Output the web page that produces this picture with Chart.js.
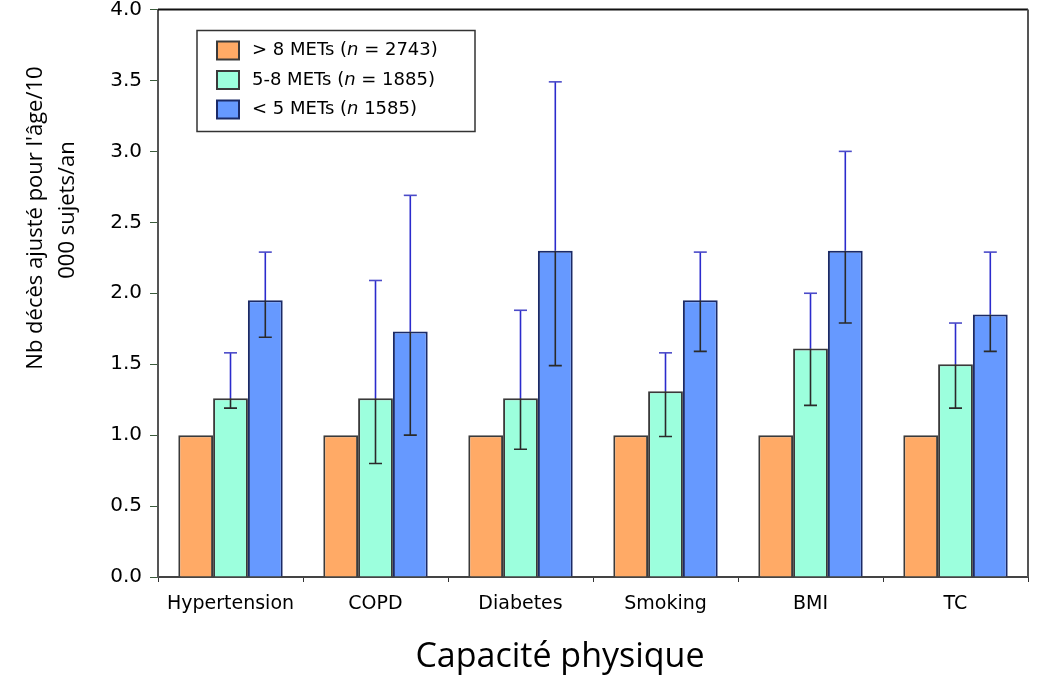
<!DOCTYPE html>
<html>
<head>
<meta charset="utf-8">
<script src="https://cdn.jsdelivr.net/npm/chart.js@4/dist/chart.umd.min.js"></script>
<style>
  html, body { margin: 0; padding: 0; background: #fff; }
  #wrap { width: 1038px; height: 682px; position: relative; }
</style>
</head>
<body>
<div id="wrap"><canvas id="c" width="1038" height="682"></canvas></div>
<script>
// Risk factors along the x axis
const categories = ['Hypertension', 'COPD', 'Diabetes', 'Smoking', 'BMI', 'TC'];

// Age-adjusted deaths per 10 000 person-years, by exercise capacity
const highFit = [1.00, 1.00, 1.00, 1.00, 1.00, 1.00];      // > 8 METs
const midFit  = [1.26, 1.26, 1.26, 1.31, 1.61, 1.50];      // 5-8 METs
const lowFit  = [1.95, 1.73, 2.30, 1.95, 2.30, 1.85];      // < 5 METs

// Confidence intervals
const midFitLow  = [1.19, 0.80, 0.90, 0.99, 1.21, 1.19];
const midFitHigh = [1.58, 2.09, 1.88, 1.58, 2.00, 1.79];
const lowFitLow  = [1.69, 1.00, 1.49, 1.59, 1.79, 1.59];
const lowFitHigh = [2.29, 2.69, 3.49, 2.29, 3.00, 2.29];

const seriesLabels = [
  ['> 8 METs (', 'n', ' = 2743)'],
  ['5-8 METs (', 'n', ' = 1885)'],
  ['< 5 METs (', 'n', ' 1585)']
];
const yTicks = [0, 0.5, 1, 1.5, 2, 2.5, 3, 3.5, 4];
const xTitle = 'Capacité physique';
const yTitle = ["Nb décès ajusté pour l'âge/10", '000 sujets/an'];

const TICK_FONT = 'DejaVu Sans';
const TITLE_FONT = '"Open Sans", "Noto Sans", sans-serif';

// Error bars: upper whisker in blue, lower whisker (inside the bar) in dark grey
const errorBars = {
  id: 'errorBars',
  afterDatasetsDraw(chart) {
    const ctx = chart.ctx;
    const y = chart.scales.y;
    chart.data.datasets.forEach((ds, di) => {
      if (!ds.errLow) return;
      const meta = chart.getDatasetMeta(di);
      meta.data.forEach((bar, i) => {
        const x = bar.x;
        const top = bar.y;
        const yHi = y.getPixelForValue(ds.errHigh[i]);
        const yLo = y.getPixelForValue(ds.errLow[i]);
        const cap = 6.5;
        ctx.save();
        ctx.lineWidth = 1.6;
        ctx.strokeStyle = '#2b2bcc';
        ctx.beginPath();
        ctx.moveTo(x, top); ctx.lineTo(x, yHi);
        ctx.stroke();
        ctx.strokeStyle = '#4b4bc8';
        ctx.beginPath();
        ctx.moveTo(x - cap, yHi); ctx.lineTo(x + cap, yHi);
        ctx.stroke();
        ctx.strokeStyle = '#2a2a2a';
        ctx.beginPath();
        ctx.moveTo(x, top); ctx.lineTo(x, yLo);
        ctx.moveTo(x - cap, yLo); ctx.lineTo(x + cap, yLo);
        ctx.stroke();
        ctx.restore();
      });
    });
  }
};

// Top and right edges of the plot frame
const frame = {
  id: 'frame',
  afterDraw(chart) {
    const { ctx, chartArea: a } = chart;
    ctx.save();
    ctx.lineWidth = 2;
    ctx.strokeStyle = '#111';
    ctx.beginPath();
    ctx.moveTo(a.left, a.top); ctx.lineTo(a.right, a.top);
    ctx.stroke();
    ctx.strokeStyle = '#555';
    ctx.beginPath();
    ctx.moveTo(a.right, a.top); ctx.lineTo(a.right, a.bottom);
    ctx.stroke();
    ctx.restore();
  }
};

// Boxed legend inside the plot, with an italic "n"
const boxedLegend = {
  id: 'boxedLegend',
  afterDraw(chart) {
    const ctx = chart.ctx;
    const a = chart.chartArea;
    const bx = a.left + 39, by = a.top + 21, bw = 278, bh = 101;
    ctx.save();
    ctx.fillStyle = '#fff';
    ctx.fillRect(bx, by, bw, bh);
    ctx.lineWidth = 1.5;
    ctx.strokeStyle = '#333';
    ctx.strokeRect(bx, by, bw, bh);
    chart.data.datasets.forEach((ds, i) => {
      const cy = by + 20 + i * 29.5;
      ctx.fillStyle = ds.backgroundColor;
      ctx.fillRect(bx + 20, cy - 9, 22, 18);
      ctx.lineWidth = 2;
      ctx.strokeStyle = ds.borderColor;
      ctx.strokeRect(bx + 20, cy - 9, 22, 18);
      let tx = bx + 55;
      ctx.fillStyle = '#000';
      ctx.textBaseline = 'middle';
      seriesLabels[i].forEach((part, k) => {
        ctx.font = (k === 1 ? 'italic ' : '') + '18px "' + TICK_FONT + '"';
        ctx.fillText(part, tx, cy);
        tx += ctx.measureText(part).width;
      });
    });
    ctx.restore();
  }
};

// Axis titles
const axisTitles = {
  id: 'axisTitles',
  afterDraw(chart) {
    const ctx = chart.ctx;
    ctx.save();
    ctx.fillStyle = '#000';
    ctx.textAlign = 'center';
    ctx.textBaseline = 'middle';
    ctx.font = '34px ' + TITLE_FONT;
    ctx.fillText(xTitle, 560, 657);
    ctx.font = '22px ' + TITLE_FONT;
    ctx.save();
    ctx.translate(36, 218);
    ctx.rotate(-Math.PI / 2);
    ctx.fillText(yTitle[0], 0, 0);
    ctx.restore();
    ctx.save();
    ctx.translate(68, 210);
    ctx.rotate(-Math.PI / 2);
    ctx.fillText(yTitle[1], 0, 0);
    ctx.restore();
    ctx.restore();
  }
};

new Chart(document.getElementById('c'), {
  type: 'bar',
  data: {
    labels: categories,
    datasets: [
      { label: seriesLabels[0].join(''), data: highFit,
        backgroundColor: '#FFAA66', borderColor: '#3a3a3a', borderWidth: 2 },
      { label: seriesLabels[1].join(''), data: midFit, errLow: midFitLow, errHigh: midFitHigh,
        backgroundColor: '#9CFFDD', borderColor: '#3a3a3a', borderWidth: 2 },
      { label: seriesLabels[2].join(''), data: lowFit, errLow: lowFitLow, errHigh: lowFitHigh,
        backgroundColor: '#6699FF', borderColor: '#1b2a66', borderWidth: 2 }
    ]
  },
  options: {
    responsive: false,
    animation: false,
    devicePixelRatio: 1,
    layout: { padding: { left: 0, right: 10, top: 0, bottom: 0 } },
    datasets: { bar: { categoryPercentage: 0.72, barPercentage: 1.0 } },
    plugins: { legend: { display: false }, tooltip: { enabled: false } },
    scales: {
      x: {
        grid: { display: true, drawOnChartArea: false, drawTicks: true, tickLength: 5, color: '#333', offset: true },
        border: { display: true, color: '#444', width: 2 },
        ticks: { color: '#000', padding: 11, font: { family: TICK_FONT, size: 19 }, maxRotation: 0 },
        afterFit(s) { s.height = 105; }
      },
      y: {
        min: 0, max: 4,
        afterBuildTicks(s) { s.ticks = yTicks.map(v => ({ value: v })); },
        grid: { display: true, drawOnChartArea: false, drawTicks: true, tickLength: 8, color: '#3b5b3b' },
        border: { display: true, color: '#555', width: 2 },
        ticks: { color: '#000', padding: 8, font: { family: TICK_FONT, size: 20 },
                 callback: v => Number(v).toFixed(1) },
        afterFit(s) { s.width = 158; s.paddingTop = 9.5; }
      }
    }
  },
  plugins: [errorBars, frame, boxedLegend, axisTitles]
});
</script>
</body>
</html>
